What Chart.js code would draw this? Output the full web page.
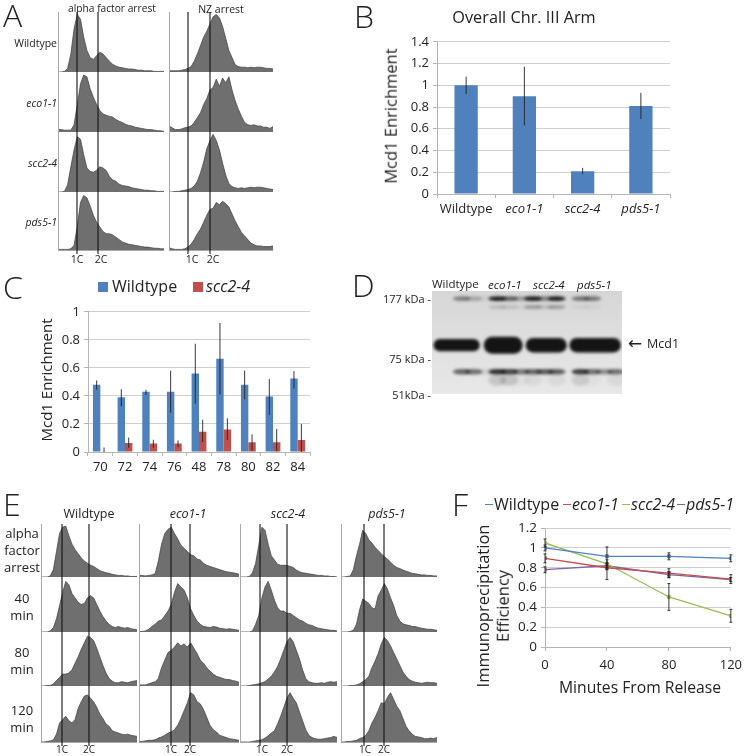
<!DOCTYPE html>
<html>
<head>
<meta charset="utf-8">
<title>Mcd1 figure</title>
<script src="https://cdn.jsdelivr.net/npm/chart.js@4"></script>
<style>
html, body { margin: 0; padding: 0; background: #fff; }
#page { position: relative; width: 748px; height: 756px; overflow: hidden; font-family: "Open Sans", sans-serif; color: #222; filter: blur(0.3px); }
canvas { position: absolute; }
.t { position: absolute; white-space: nowrap; line-height: 1; }
</style>
</head>
<body>
<div id="page"></div>
<script>
// Panel A histograms (percent of row height, channel 0-100)
const aAlphaWildtype = [0,0,1,6,30,72,96,88,58,36,24,21,27,33,30,24,18,13,10,8,7,6,5,5,4,3,3,2,2,2,1,1,1,1];
const aAlphaEco = [4,4,3,3,3,12,45,80,95,92,72,58,46,36,30,28,26,25,21,18,16,13,11,10,8,7,6,5,4,4,3,2,2,1];
const aAlphaScc = [0,0,1,12,42,70,92,88,62,40,34,33,36,42,40,36,26,20,18,13,11,10,9,7,6,5,4,3,3,2,2,1,1,1];
const aAlphaPds = [1,1,1,1,2,8,40,82,94,90,76,60,48,40,32,28,28,26,22,18,14,12,10,9,8,7,6,5,5,4,3,3,2,2];
const aNzWildtype = [2,2,2,2,3,4,6,9,18,30,44,58,68,80,92,96,90,76,56,36,24,12,9,8,8,7,8,7,8,8,7,6,6,5];
const aNzEco = [10,7,4,4,5,7,8,10,16,24,32,46,56,70,74,88,76,90,82,92,70,52,38,26,16,12,11,12,10,10,8,8,6,9];
const aNzScc = [0,0,1,1,2,3,4,6,10,18,32,50,72,86,96,86,70,48,28,14,9,7,6,7,6,7,8,7,8,8,7,6,5,4];
const aNzPds = [4,2,1,1,1,2,5,10,18,28,36,48,60,70,72,82,78,84,80,74,62,50,40,30,24,18,12,9,7,7,6,6,6,7];

// Panel E histograms
const eWildtypeAlpha = [0,0,0,2,14,48,82,94,96,78,62,52,44,36,30,26,22,20,16,12,10,8,7,5,4,3,3,2,2,1,1,1];
const eWildtype40 = [0,0,0,2,8,24,48,72,92,86,70,62,54,50,52,62,66,62,50,38,28,20,14,10,8,10,8,7,8,6,5,4];
const eWildtype80 = [0,0,1,1,4,10,16,22,22,24,30,42,54,68,80,92,90,84,70,54,38,24,14,9,6,6,8,7,6,8,9,10];
const eWildtype120 = [0,0,1,2,4,14,34,40,46,38,34,40,60,72,82,84,78,72,62,50,42,32,28,20,18,16,14,13,14,12,11,10];
const eEcoAlpha = [3,3,2,3,4,6,30,62,82,90,94,82,72,60,54,48,42,40,34,32,26,22,20,18,16,14,12,10,9,8,7,5];
const eEco40 = [1,1,2,5,10,14,20,22,30,38,50,72,88,82,76,62,42,30,20,14,10,9,8,10,9,7,6,5,6,5,4,3];
const eEco80 = [2,2,2,4,6,8,14,34,48,62,66,72,80,74,78,72,80,70,60,48,42,34,28,22,18,16,14,12,12,10,9,7];
const eEco120 = [1,1,2,3,3,4,7,9,12,16,18,22,30,42,56,70,88,84,72,68,58,44,30,22,18,12,10,8,6,5,4,3];
const eSccAlpha = [0,0,0,1,8,26,60,94,88,62,40,32,24,22,22,22,20,18,13,10,8,7,6,5,4,3,3,2,2,1,1,0];
const eScc40 = [0,0,0,0,2,14,30,62,82,92,76,58,44,38,38,34,34,30,26,22,20,16,13,12,9,7,6,5,4,3,3,2];
const eScc80 = [0,0,0,1,2,3,4,6,8,13,18,26,36,50,66,82,90,82,66,50,30,14,8,6,5,5,6,5,7,8,7,8];
const eScc120 = [0,0,0,0,1,2,3,4,7,11,16,20,32,46,62,78,88,78,70,54,38,22,12,8,6,5,5,6,7,8,10,8];
const ePdsAlpha = [0,0,1,2,14,40,62,88,82,70,64,56,50,44,38,34,28,22,18,16,13,11,9,7,6,5,4,4,3,3,2,2];
const ePds40 = [0,0,0,1,3,14,40,60,56,52,44,42,66,76,88,78,62,48,30,20,15,13,12,10,10,8,7,6,5,5,4,3];
const ePds80 = [0,0,0,1,1,2,4,8,12,18,34,46,60,78,90,84,74,62,50,38,26,18,12,9,7,6,5,6,7,6,6,5];
const ePds120 = [0,0,1,1,2,3,6,8,12,20,34,44,56,70,68,80,88,76,64,56,42,28,20,14,10,9,8,6,6,7,6,8];

// Panel B
const strains = ['Wildtype', 'eco1-1', 'scc2-4', 'pds5-1'];
const armValues = [1, 0.9, 0.21, 0.81];
const armUp = [1.08, 1.17, 0.24, 0.93];
const armLow = [0.92, 0.63, 0.185, 0.69];

// Panel C
const sites = ['70', '72', '74', '76', '48', '78', '80', '82', '84'];
const siteWildtype = [0.48, 0.39, 0.43, 0.43, 0.56, 0.665, 0.48, 0.395, 0.525];
const siteWildtypeUp = [0.51, 0.448, 0.444, 0.58, 0.772, 0.92, 0.58, 0.52, 0.577];
const siteWildtypeLow = [0.446, 0.326, 0.407, 0.28, 0.345, 0.41, 0.377, 0.264, 0.453];
const siteScc = [0, 0.065, 0.06, 0.06, 0.145, 0.16, 0.07, 0.07, 0.085];
const siteSccUp = [0.032, 0.103, 0.087, 0.083, 0.23, 0.24, 0.126, 0.165, 0.2];
const siteSccLow = [0, 0.03, 0.03, 0.035, 0.07, 0.085, 0.01, 0.005, 0];

// Panel D, band strength per lane
const blotLanes = [0,1,2,3,4,5,6,7,8,9,10,11,12,13,14,15];
const bandDepth = [7.4, 15.5, 52.6, 78.4, 86.5];
const band177 = [0,0,.45,.25,.05,.95,.6,.3,.95,.45,.95,0,.5,.5,0,0];
const band150 = [0,0,0,0,0,.15,.12,.05,.3,.15,.3,0,.05,.05,0,0];
const band65 = [0,0,.6,.55,.1,.85,.75,.5,.6,.65,.65,0,.8,.55,.4,.55];
const band58 = [0,0,0,0,0,.15,.15,.03,.06,0,.06,0,.12,.03,0,.06];
// Mcd1 runs across each strain: from lane, to lane, strength
const mcd1From = [-0.37, 3.86, 7.39, 11.07];
const mcd1To = [3.52, 7.13, 10.85, 15.41];
const mcd1Strength = [.72, 1, .85, .85];

// Panel F
const minutes = [0, 40, 80, 120];
const ipWildtype = [1, 0.915, 0.915, 0.895];
const ipWildtypeUp = [1.03, 1.01, 0.95, 0.93];
const ipWildtypeLow = [0.97, 0.82, 0.88, 0.86];
const ipEco = [0.895, 0.8, 0.745, 0.685];
const ipEcoUp = [0.94, 0.85, 0.79, 0.73];
const ipEcoLow = [0.85, 0.68, 0.7, 0.64];
const ipScc = [1.05, 0.84, 0.505, 0.315];
const ipSccUp = [1.09, 0.88, 0.64, 0.38];
const ipSccLow = [1.01, 0.8, 0.37, 0.25];
const ipPds = [0.78, 0.82, 0.73, 0.68];
const ipPdsUp = [0.81, 0.84, 0.76, 0.7];
const ipPdsLow = [0.75, 0.78, 0.7, 0.66];

const page = document.getElementById('page');
const FONT = '"Open Sans", sans-serif';

function addCanvas(x, y, w, h) {
    const c = document.createElement('canvas');
    c.width = w;
    c.height = h;
    c.style.left = x + 'px';
    c.style.top = y + 'px';
    c.style.width = w + 'px';
    c.style.height = h + 'px';
    page.appendChild(c);
    return c;
}

// anchor: l, c or r, y is the middle of the text
function label(text, x, y, size, opts) {
    opts = opts || {};
    const d = document.createElement('div');
    d.className = 't';
    d.textContent = text;
    d.style.left = x + 'px';
    d.style.top = y + 'px';
    d.style.fontSize = size + 'px';
    if (opts.italic) d.style.fontStyle = 'italic';
    if (opts.weight) d.style.fontWeight = opts.weight;
    if (opts.family) d.style.fontFamily = opts.family;
    const tx = opts.anchor === 'l' ? '0' : opts.anchor === 'r' ? '-100%' : '-50%';
    d.style.transform = 'translate(' + tx + ',-50%)' + (opts.rotate ? ' rotate(' + opts.rotate + 'deg)' : '');
    page.appendChild(d);
}

// error bars for the bar and line charts
const errorBars = {
    id: 'errorBars',
    afterDatasetsDraw(chart) {
        const ctx = chart.ctx, ys = chart.scales.y;
        chart.data.datasets.forEach((ds, k) => {
            if (!ds.errUp) return;
            chart.getDatasetMeta(k).data.forEach((el, i) => {
                const top = ys.getPixelForValue(ds.errUp[i]);
                const low = ys.getPixelForValue(ds.errLow[i]);
                ctx.save();
                ctx.strokeStyle = '#222';
                ctx.lineWidth = 0.9;
                ctx.beginPath();
                ctx.moveTo(el.x, top);
                ctx.lineTo(el.x, low);
                const cap = ds.errCap || 0;
                ctx.moveTo(el.x - cap, top);
                ctx.lineTo(el.x + cap, top);
                ctx.moveTo(el.x - cap, low);
                ctx.lineTo(el.x + cap, low);
                ctx.stroke();
                ctx.restore();
            });
        });
    }
};

// grey axes and the 1C / 2C lines of a histogram cell
const histMarks = {
    id: 'histMarks',
    afterDatasetsDraw(chart, args, opts) {
        const ctx = chart.ctx, a = chart.chartArea, xs = chart.scales.x;
        ctx.save();
        ctx.strokeStyle = '#a8a8a8';
        ctx.lineWidth = 1;
        ctx.beginPath();
        ctx.moveTo(a.left + 0.5, 0);
        ctx.lineTo(a.left + 0.5, a.bottom);
        ctx.moveTo(a.left, a.bottom + 0.5);
        ctx.lineTo(a.right, a.bottom + 0.5);
        ctx.stroke();
        ctx.strokeStyle = '#111';
        ctx.lineWidth = 1.1;
        opts.marks.forEach(m => {
            const px = xs.getPixelForValue(m);
            ctx.beginPath();
            ctx.moveTo(px, 0);
            ctx.lineTo(px, chart.height);
            ctx.stroke();
        });
        ctx.restore();
    }
};

function histogram(x, top, w, bottom, values, marks, extra) {
    const n = values.length;
    new Chart(addCanvas(x, top, w, bottom - top + extra), {
        type: 'line',
        data: {
            datasets: [{
                data: values.map((v, i) => ({ x: i * 100 / (n - 1), y: v })),
                borderColor: '#484848',
                borderWidth: 0.8,
                backgroundColor: '#6f6f6f',
                fill: 'origin',
                pointRadius: 0,
                tension: 0
            }]
        },
        options: {
            responsive: false,
            animation: false,
            layout: { padding: { bottom: extra } },
            plugins: { legend: { display: false }, tooltip: { enabled: false }, histMarks: { marks: marks } },
            scales: {
                x: { type: 'linear', display: false, min: 0, max: 100 },
                y: { display: false, min: 0, max: 100 }
            }
        },
        plugins: [histMarks]
    });
}

function histColumn(x, w, px1C, px2C, tops, series) {
    const marks = [(px1C - x) / w * 100, (px2C - x) / w * 100];
    series.forEach((values, r) => {
        const extra = r === series.length - 1 ? 4 : 0;
        histogram(x, tops[r], w, tops[r + 1], values, marks, extra);
    });
}

const aTops = [12, 72, 132, 192, 250];
histColumn(58, 106, 77, 98, aTops, [aAlphaWildtype, aAlphaEco, aAlphaScc, aAlphaPds]);
histColumn(169, 104, 188, 210, aTops, [aNzWildtype, aNzEco, aNzScc, aNzPds]);

const eTops = [524, 577, 632, 686, 742];
histColumn(41, 96, 62, 89, eTops, [eWildtypeAlpha, eWildtype40, eWildtype80, eWildtype120]);
histColumn(139, 100, 171, 190, eTops, [eEcoAlpha, eEco40, eEco80, eEco120]);
histColumn(240, 97, 260, 287, eTops, [eSccAlpha, eScc40, eScc80, eScc120]);
histColumn(341, 96, 364, 384, eTops, [ePdsAlpha, ePds40, ePds80, ePds120]);

const GRID = '#cfcfcf';
const AXIS = '#b5b5b5';

function valueAxis(max, step, width) {
    return {
        min: 0, max: max,
        afterFit: s => { s.width = width; },
        ticks: {
            stepSize: step,
            color: '#222',
            font: { family: FONT, size: 13 },
            padding: 4,
            callback: v => String(+v.toFixed(1))
        },
        grid: { color: GRID, tickLength: 4, tickColor: AXIS },
        border: { color: AXIS }
    };
}

function barX(height, size, italicFrom) {
    return {
        afterFit: s => { s.height = height; },
        ticks: {
            color: '#222',
            padding: 3,
            maxRotation: 0,
            autoSkip: false,
            font: c => ({ family: FONT, size: size, style: c.index >= italicFrom ? 'italic' : 'normal' })
        },
        grid: { drawOnChartArea: false, tickLength: 4, tickColor: AXIS },
        border: { color: AXIS }
    };
}

// Panel B
new Chart(addCanvas(400, 30, 290, 195), {
    type: 'bar',
    data: {
        labels: strains,
        datasets: [{ data: armValues, errUp: armUp, errLow: armLow, backgroundColor: '#4f81bd', barPercentage: 0.4, categoryPercentage: 1 }]
    },
    options: {
        responsive: false,
        animation: false,
        layout: { padding: { top: 9, right: 20 } },
        plugins: { legend: { display: false }, tooltip: { enabled: false } },
        scales: { x: barX(31, 13, 1), y: valueAxis(1.4, 0.2, 37) }
    },
    plugins: [errorBars]
});

// Panel C
new Chart(addCanvas(55, 300, 275, 185), {
    type: 'bar',
    data: {
        labels: sites,
        datasets: [
            { data: siteWildtype, errUp: siteWildtypeUp, errLow: siteWildtypeLow, backgroundColor: '#4f81bd', barPercentage: 1, categoryPercentage: 0.6 },
            { data: siteScc, errUp: siteSccUp, errLow: siteSccLow, backgroundColor: '#c0504d', barPercentage: 1, categoryPercentage: 0.6 }
        ]
    },
    options: {
        responsive: false,
        animation: false,
        layout: { padding: { top: 7, right: 20 } },
        plugins: { legend: { display: false }, tooltip: { enabled: false } },
        scales: { x: barX(33, 13, 99), y: valueAxis(1, 0.2, 33) }
    },
    plugins: [errorBars]
});

// Panel D, bands come from the lane and depth scales
const blotBands = {
    id: 'blotBands',
    beforeDatasetsDraw(chart) {
        const ctx = chart.ctx, a = chart.chartArea, xs = chart.scales.x, ys = chart.scales.y;
        const g = ctx.createLinearGradient(0, a.top, 0, a.bottom);
        g.addColorStop(0, '#d6d6d6');
        g.addColorStop(1, '#e8e8e8');
        ctx.save();
        ctx.fillStyle = g;
        ctx.fillRect(a.left, a.top, a.width, a.height);
        ctx.beginPath();
        ctx.rect(a.left, a.top, a.width, a.height);
        ctx.clip();
        const rows = [band177, band150, null, band65, band58];
        const rowHeight = [2.4, 2, 0, 2.8, 6];
        const laneWidth = xs.getPixelForValue(1) - xs.getPixelForValue(0);
        ctx.filter = 'blur(1.5px)';
        rows.forEach((row, r) => {
            if (!row) return;
            const y = ys.getPixelForValue(bandDepth[r]);
            row.forEach((v, i) => {
                if (!v) return;
                ctx.fillStyle = 'rgba(18,18,18,' + v + ')';
                ctx.beginPath();
                ctx.ellipse(xs.getPixelForValue(blotLanes[i]), y, laneWidth * 0.75, rowHeight[r], 0, 0, Math.PI * 2);
                ctx.fill();
            });
        });
        const my = ys.getPixelForValue(bandDepth[2]);
        ctx.fillStyle = '#141414';
        mcd1From.forEach((from, k) => {
            const left = xs.getPixelForValue(from);
            const right = xs.getPixelForValue(mcd1To[k]);
            const half = 8.5 * mcd1Strength[k];
            ctx.beginPath();
            ctx.roundRect(left, my - half, right - left, half * 2, half);
            ctx.fill();
        });
        ctx.restore();
    }
};

new Chart(addCanvas(432, 291, 190, 103), {
    type: 'scatter',
    data: { datasets: [{ data: [], pointRadius: 0 }] },
    options: {
        responsive: false,
        animation: false,
        plugins: { legend: { display: false }, tooltip: { enabled: false } },
        scales: {
            x: { type: 'linear', display: false, min: -0.5, max: 15.5 },
            y: { display: false, min: 0, max: 100, reverse: true }
        }
    },
    plugins: [blotBands]
});

// Panel F
function ipSeries(values, up, low, color) {
    return {
        data: values.map((v, i) => ({ x: minutes[i], y: v })),
        errUp: up,
        errLow: low,
        errCap: 1.5,
        borderColor: color,
        backgroundColor: color,
        borderWidth: 1.3,
        pointRadius: 1.6,
        tension: 0
    };
}

const fAxis = valueAxis(1.2, 0.2, 33);
fAxis.ticks.font = { family: FONT, size: 13.5 };

new Chart(addCanvas(512, 516, 236, 160), {
    type: 'line',
    data: {
        datasets: [
            ipSeries(ipWildtype, ipWildtypeUp, ipWildtypeLow, '#4f81bd'),
            ipSeries(ipEco, ipEcoUp, ipEcoLow, '#c0504d'),
            ipSeries(ipScc, ipSccUp, ipSccLow, '#9bbb59'),
            ipSeries(ipPds, ipPdsUp, ipPdsLow, '#8064a2')
        ]
    },
    options: {
        responsive: false,
        animation: false,
        layout: { padding: { top: 10, right: 14 } },
        plugins: { legend: { display: false }, tooltip: { enabled: false } },
        scales: {
            x: {
                type: 'linear', min: 0, max: 120,
                afterFit: s => { s.height = 29; },
                ticks: { stepSize: 40, color: '#222', font: { family: FONT, size: 13 }, padding: 6, maxRotation: 0 },
                grid: { drawOnChartArea: false, tickLength: 4, tickColor: AXIS },
                border: { color: AXIS }
            },
            y: fAxis
        }
    },
    plugins: [errorBars]
});

// Panel letters
const letter = { anchor: 'l', weight: 300 };
label('A', 3, 15, 32, letter);
label('B', 354, 16, 32, letter);
label('C', 3, 287, 32, letter);
label('D', 352, 285, 32, letter);
label('E', 3, 504, 32, letter);
label('F', 452, 504, 32, letter);

// Panel A text
label('alpha factor arrest', 112, 8, 10.2);
label('NZ arrest', 221, 9, 10.5);
label('Wildtype', 57, 43, 10.5, { anchor: 'r' });
label('eco1-1', 57, 103, 10.5, { anchor: 'r', italic: true });
label('scc2-4', 57, 163, 10.5, { anchor: 'r', italic: true });
label('pds5-1', 57, 222, 10.5, { anchor: 'r', italic: true });
[[77, '1C'], [101, '2C'], [192, '1C'], [213, '2C']].forEach(t => label(t[1], t[0], 259, 10.5));

// Panel B text
label('Overall Chr. III Arm', 524, 17, 16.3);
label('Mcd1 Enrichment', 391, 116, 16.5, { rotate: -90 });

// Panel C text
label('Mcd1 Enrichment', 46, 380, 15, { rotate: -90 });
[['#4f81bd', 98], ['#c0504d', 193]].forEach(s => {
    const d = document.createElement('div');
    d.style.cssText = 'position:absolute;width:10px;height:10px;top:282px;left:' + s[1] + 'px;background:' + s[0];
    page.appendChild(d);
});
label('Wildtype', 112, 286, 16, { anchor: 'l' });
label('scc2-4', 206, 286, 16, { anchor: 'l', italic: true });

// Panel D text
label('Wildtype', 432, 284, 11.5, { anchor: 'l' });
label('eco1-1', 488, 285, 11.5, { anchor: 'l', italic: true });
label('scc2-4', 533, 285, 11.5, { anchor: 'l', italic: true });
label('pds5-1', 577, 285, 11.5, { anchor: 'l', italic: true });
label('177 kDa -', 431, 298, 11, { anchor: 'r' });
label('75 kDa -', 431, 358, 11, { anchor: 'r' });
label('51kDa -', 431, 394, 11, { anchor: 'r' });
label('\u2190', 628, 343, 17, { anchor: 'l', family: '"DejaVu Sans", sans-serif' });
label('Mcd1', 647, 344, 12.5, { anchor: 'l' });

// Panel E text
label('Wildtype', 89, 514, 12.5);
label('eco1-1', 188, 514, 12.5, { italic: true });
label('scc2-4', 288, 514, 12.5, { italic: true });
label('pds5-1', 387, 514, 12.5, { italic: true });
[['alpha', 533], ['factor', 550], ['arrest', 567], ['40', 598], ['min', 615], ['80', 652], ['min', 669], ['120', 710], ['min', 727]]
    .forEach(t => label(t[0], 22, t[1], 13));
[[62, '1C'], [89, '2C'], [171, '1C'], [190, '2C'], [262, '1C'], [287, '2C'], [365, '1C'], [384, '2C']]
    .forEach(t => label(t[1], t[0], 749, 10));

// Panel F text
[['#4f81bd', 485], ['#c0504d', 563], ['#9bbb59', 622], ['#8064a2', 677]].forEach(s => {
    const d = document.createElement('div');
    d.style.cssText = 'position:absolute;width:8px;height:1px;top:504px;left:' + s[1] + 'px;background:' + s[0];
    page.appendChild(d);
});
label('Wildtype', 494, 504, 16, { anchor: 'l' });
label('eco1-1', 572, 504, 16, { anchor: 'l', italic: true });
label('scc2-4', 631, 504, 16, { anchor: 'l', italic: true });
label('pds5-1', 686, 504, 16, { anchor: 'l', italic: true });
label('Immunoprecipitation', 483, 606, 16.5, { rotate: -90 });
label('Efficiency', 503, 606, 16.5, { rotate: -90 });
label('Minutes From Release', 640, 688, 15.7);
</script>
</body>
</html>
